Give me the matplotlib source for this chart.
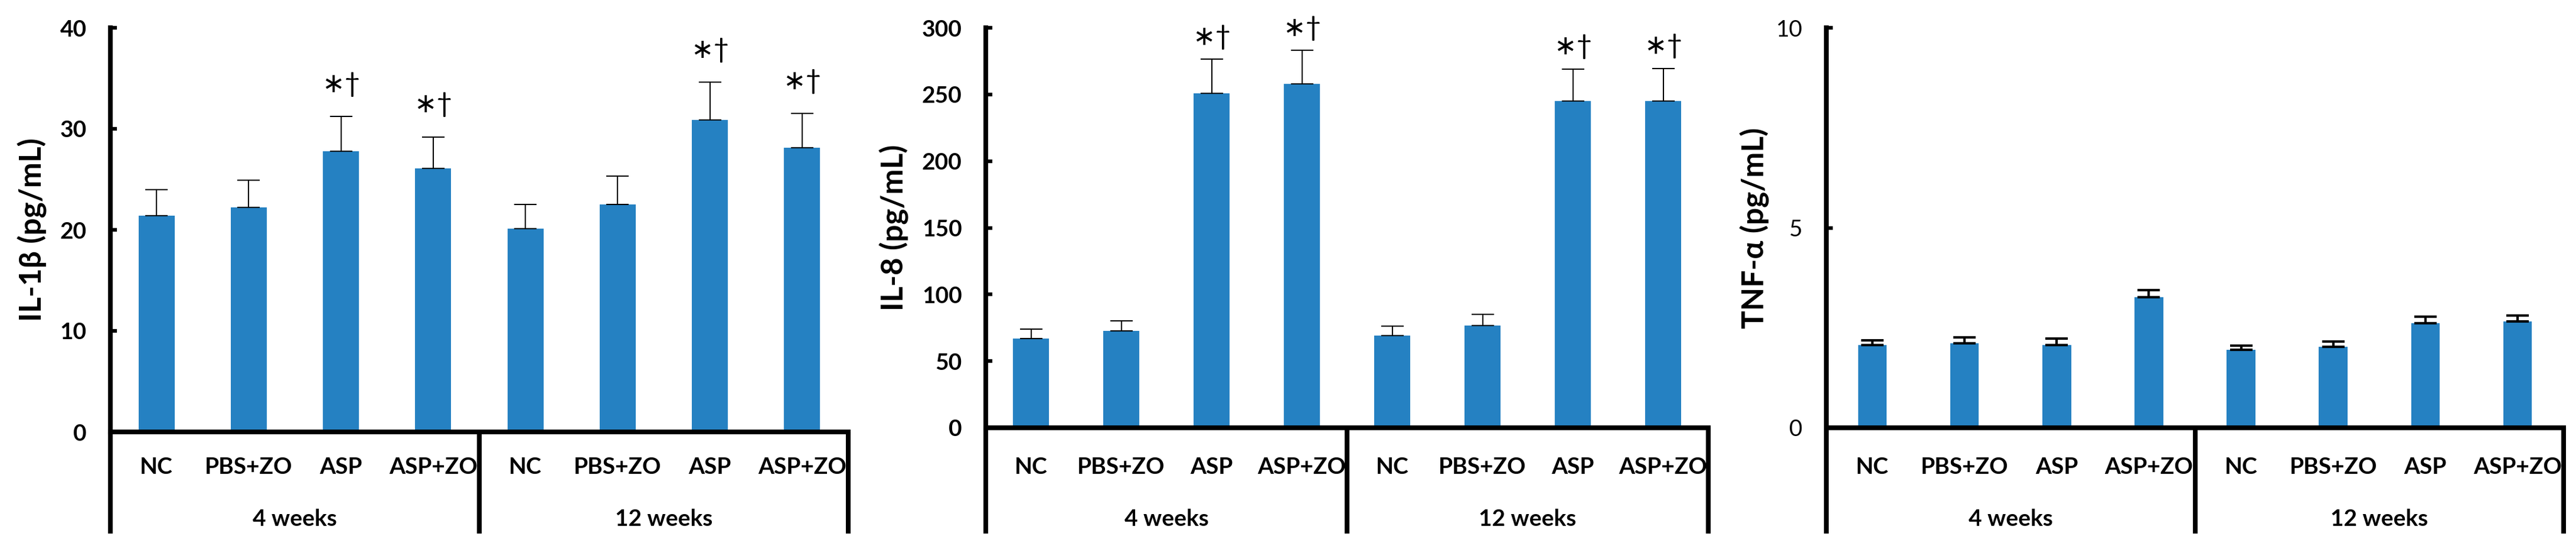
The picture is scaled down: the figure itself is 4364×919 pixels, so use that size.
import numpy as np
import matplotlib
matplotlib.use("Agg")
import matplotlib.pyplot as plt

plt.rcParams['font.family'] = ['Lato', 'DejaVu Sans']

groups = ["4 weeks", "12 weeks"]
treatments = ["NC", "PBS+ZO", "ASP", "ASP+ZO"]

il1b_mean = [21.4, 22.2, 27.8, 26.1, 20.1, 22.5, 30.9, 28.1]
il1b_sd = [2.6, 2.7, 3.4, 3.1, 2.4, 2.8, 3.7, 3.4]
il8_mean = [67.0, 72.7, 250.9, 257.7, 69.1, 76.6, 244.9, 244.9]
il8_sd = [6.8, 7.3, 25.5, 25.3, 7.3, 8.6, 24.2, 24.7]
tnf_mean = [2.07, 2.11, 2.07, 3.26, 1.95, 2.02, 2.62, 2.66]
tnf_sd = [0.12, 0.15, 0.16, 0.18, 0.11, 0.14, 0.15, 0.14]

il1b_sig = [False, False, True, True, False, False, True, True]
il8_sig = [False, False, True, True, False, False, True, True]
tnf_sig = [False] * 8

BLUE = '#2581C2'
W, H = 4364, 919
fig = plt.figure(figsize=(W / 100, H / 100), dpi=100)

# panel boxes in pixels: left, right, y of top tick, y of zero line
panels = [
    dict(box=(187, 1437, 47, 731), mean=il1b_mean, sd=il1b_sd, sig=il1b_sig,
         ylim=40, step=10, label="IL-1β (pg/mL)", bold_ticks=True,
         width=0.39, elw=1.5, cap=14, sig_off=24, lab_x=55),
    dict(box=(1670, 2894, 47, 724), mean=il8_mean, sd=il8_sd, sig=il8_sig,
         ylim=300, step=50, label="IL-8 (pg/mL)", bold_ticks=True,
         width=0.40, elw=1.5, cap=14, sig_off=12, lab_x=1515),
    dict(box=(3094, 4343, 47, 724), mean=tnf_mean, sd=tnf_sd, sig=tnf_sig,
         ylim=10, step=5, label="TNF-α (pg/mL)", bold_ticks=False,
         width=0.31, elw=3.0, cap=13.5, sig_off=12, lab_x=2973),
]
box_bottom = 903
cats = treatments * len(groups)
x = np.arange(len(cats))

for p in panels:
    l, r, yt, y0 = p['box']
    ax = fig.add_axes([l / W, 1 - y0 / H, (r - l) / W, (y0 - yt) / H])
    hpx = y0 - yt
    mean = np.array(p['mean'])
    sd = np.array(p['sd'])
    ax.bar(x, mean, width=p['width'], color=BLUE, zorder=2)
    ax.errorbar(x, mean, yerr=[np.zeros_like(sd), sd], fmt='none', ecolor='black',
                elinewidth=p['elw'], capsize=p['cap'], capthick=p['elw'], zorder=3)
    for xi, m, s, flag in zip(x, mean, sd, p['sig']):
        if flag:
            ax.annotate("\u2217\u2020", (xi, m + s), xytext=(0, p['sig_off']),
                        textcoords='offset points', ha='center', va='bottom',
                        fontsize=33)

    ax.set_xlim(-0.5, len(cats) - 0.5)
    ax.set_ylim(0, p['ylim'])
    ax.set_yticks(np.arange(0, p['ylim'] + 0.1, p['step']))
    ax.set_yticklabels([f"{v:g}" for v in np.arange(0, p['ylim'] + 0.1, p['step'])],
                       fontsize=28, fontweight='bold' if p['bold_ticks'] else 'normal')
    ax.tick_params(axis='y', direction='in', length=8, width=4.5, pad=29)
    ax.set_xticks([])
    for s in ['top', 'right']:
        ax.spines[s].set_visible(False)
    for s in ['left', 'bottom']:
        ax.spines[s].set_linewidth(5.8)
        ax.spines[s].set_zorder(4)
    ax.spines['bottom'].set_capstyle('projecting')

    # category box below the axis
    yb = -(box_bottom - y0) / hpx
    tr = ax.get_xaxis_transform()
    for xv in [-0.5, len(treatments) - 0.5, len(cats) - 0.5]:
        ax.plot([xv, xv], [0, yb], transform=tr, color='black', lw=5.8,
                clip_on=False, solid_capstyle='butt', zorder=4)
    for xi, c in zip(x, cats):
        ax.text(xi, -(791 - y0) / hpx, c, transform=tr, ha='center', va='center',
                fontsize=28, fontweight='bold')
    for gi, g in enumerate(groups):
        xc = gi * len(treatments) + (len(treatments) - 1) / 2
        ax.text(xc, -(879 - y0) / hpx, g, transform=tr, ha='center', va='center',
                fontsize=28, fontweight='bold')

    fig.text(p['lab_x'] / W, 1 - (yt + y0) / 2 / H, p['label'], rotation=90,
             ha='center', va='center', fontsize=37, fontweight='bold')

fig.savefig('out.png', dpi=100, facecolor='white')
